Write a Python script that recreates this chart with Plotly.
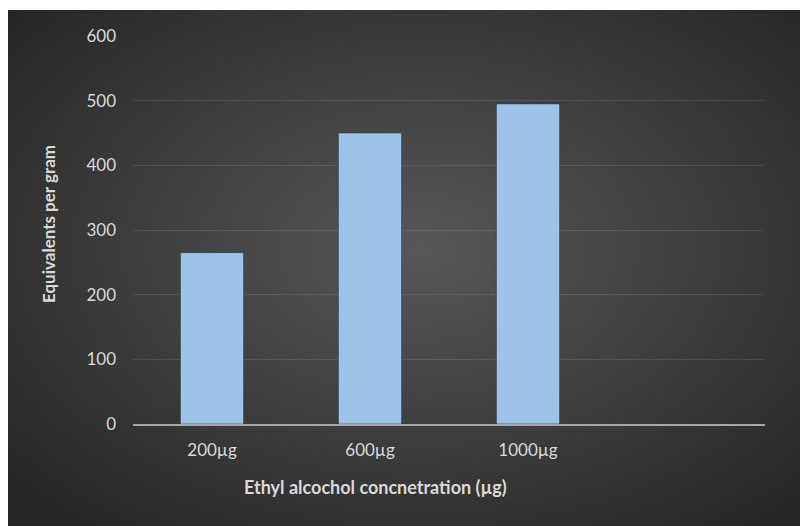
import base64
import struct
import zlib

import numpy as np
import plotly.graph_objects as go

# Data
categories = ["200µg", "600µg", "1000µg"]
values = [265, 450, 495]
y_ticks = [0, 100, 200, 300, 400, 500, 600]

W, H = 800, 526
L, R, T, B = 133, 35, 36, 102
plot_w, plot_h = W - L - R, H - T - B


def png_data_uri(rgb):
    """Encode an HxWx3 uint8 array as a PNG data URI."""
    h, w, _ = rgb.shape
    raw = b"".join(b"\x00" + rgb[i].tobytes() for i in range(h))

    def chunk(tag, data):
        c = struct.pack(">I", len(data)) + tag + data
        return c + struct.pack(">I", zlib.crc32(tag + data) & 0xFFFFFFFF)

    png = b"\x89PNG\r\n\x1a\n"
    png += chunk(b"IHDR", struct.pack(">IIBBBBB", w, h, 8, 2, 0, 0, 0))
    png += chunk(b"IDAT", zlib.compress(raw, 9))
    png += chunk(b"IEND", b"")
    return "data:image/png;base64," + base64.b64encode(png).decode()


# Radial dark-gray background for the chart area
bg_x0, bg_y0 = 8, 10
bw, bh = W - bg_x0, H - bg_y0
yy, xx = np.mgrid[0:bh, 0:bw].astype(float)
cx, cy = 420 - bg_x0, 250 - bg_y0
r = np.sqrt(((xx - cx) / (bw / 2)) ** 2 + ((yy - cy) / (bh / 2)) ** 2) / np.sqrt(2)
r = np.clip(r, 0, 1)
level = (0x58 - r * (0x58 - 0x25)).astype(np.uint8)
bg = np.dstack([level, level, level])
bg_uri = png_data_uri(bg)

x_pos = list(range(len(categories)))

fig = go.Figure(
    go.Bar(
        x=x_pos,
        y=values,
        width=0.4,
        marker=dict(color="#9DC3E6", line=dict(color="rgba(40,50,70,0.55)", width=1)),
        hoverinfo="skip",
    )
)

font_family = "Lato, 'Open Sans', sans-serif"
tick_color = "#d9d9d9"

fig.update_layout(
    width=W,
    height=H,
    margin=dict(l=L, r=R, t=T, b=B, pad=0),
    paper_bgcolor="white",
    plot_bgcolor="rgba(0,0,0,0)",
    showlegend=False,
    font=dict(family=font_family, color=tick_color, size=17),
    images=[
        dict(
            source=bg_uri,
            xref="paper",
            yref="paper",
            x=(bg_x0 - L) / plot_w,
            y=(H - B - bg_y0) / plot_h,
            sizex=bw / plot_w,
            sizey=bh / plot_h,
            xanchor="left",
            yanchor="top",
            sizing="stretch",
            layer="below",
        )
    ],
    xaxis=dict(
        range=[-0.5, 3.5],
        tickmode="array",
        tickvals=x_pos,
        ticktext=categories,
        showgrid=False,
        zeroline=False,
        showline=True,
        linecolor="#a6a6a6",
        linewidth=2,
        ticks="",
        ticklabelstandoff=10,
        tickfont=dict(size=17, color=tick_color, family=font_family),
        fixedrange=True,
    ),
    yaxis=dict(
        range=[0, 600],
        tickmode="array",
        tickvals=y_ticks,
        showgrid=True,
        gridcolor="rgba(255,255,255,0.11)",
        gridwidth=1,
        zeroline=False,
        showline=False,
        ticks="",
        ticklabelstandoff=16,
        tickfont=dict(size=17, color=tick_color, family=font_family),
        fixedrange=True,
    ),
    annotations=[
        dict(
            text="<b>Equivalents per gram</b>",
            xref="paper",
            yref="paper",
            x=(48 - L) / plot_w,
            y=(H - B - 224) / plot_h,
            xanchor="center",
            yanchor="middle",
            textangle=-90,
            showarrow=False,
            font=dict(size=17, color=tick_color, family=font_family),
        ),
        dict(
            text="<b>Ethyl alcochol concnetration (µg)</b>",
            xref="paper",
            yref="paper",
            x=(375 - L) / plot_w,
            y=(H - B - 487) / plot_h,
            xanchor="center",
            yanchor="middle",
            showarrow=False,
            font=dict(size=18, color=tick_color, family=font_family),
        ),
    ],
)

fig.write_html("out.html", config=dict(displayModeBar=False))
